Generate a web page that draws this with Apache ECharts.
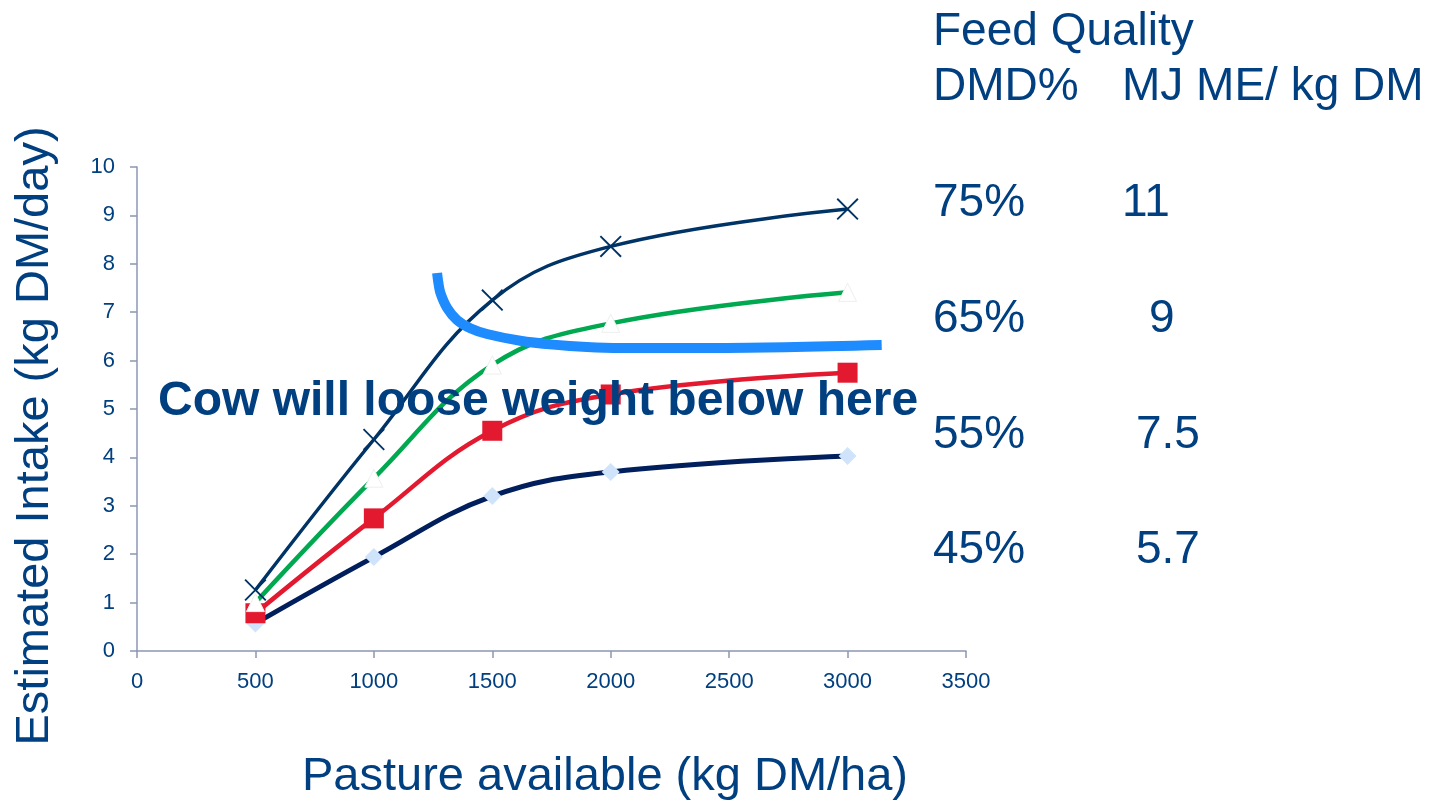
<!DOCTYPE html>
<html>
<head>
<meta charset="utf-8">
<script src="https://cdn.jsdelivr.net/npm/echarts@6/dist/echarts.min.js"></script>
<style>
html,body{margin:0;padding:0;background:#fff;}
#chart{width:1454px;height:800px;}
</style>
</head>
<body>
<div id="chart"></div>
<script>
// ---- data ----
const pasture = [500, 1000, 1500, 2000, 3000];
const dmd75 = [1.26, 4.37, 7.25, 8.36, 9.13];
const dmd65 = [1.0, 3.57, 5.91, 6.77, 7.41];
const dmd55 = [0.78, 2.74, 4.55, 5.3, 5.75];
const dmd45 = [0.57, 1.94, 3.2, 3.7, 4.03];
const threshX = [1267, 1272, 1281, 1309, 1351, 1407, 1478, 1618, 1757, 1900, 2040, 2462, 3144];
const threshY = [7.81, 7.62, 7.40, 7.09, 6.84, 6.67, 6.55, 6.41, 6.33, 6.28, 6.26, 6.26, 6.32];
const dmdLabels = ['75%', '65%', '55%', '45%'];
const meLabels = ['11', '9', '7.5', '5.7'];
const headerTitle = 'Feed Quality';
const headerCols = ['DMD%', 'MJ ME/ kg DM'];
const xName = 'Pasture available (kg DM/ha)';
const yName = 'Estimated Intake (kg DM/day)';
const noteText = 'Cow will loose weight below here';

const TXT = '#003F80';
const FONT = '"Liberation Sans", Arial, sans-serif';
const pairs = (xs, ys) => xs.map((x, i) => [x, ys[i]]);
const crossPath = 'path://M0,1.2L1.2,0L10,8.8L18.8,0L20,1.2L11.2,10L20,18.8L18.8,20L10,11.2L1.2,20L0,18.8L8.8,10Z';

const chart = echarts.init(document.getElementById('chart'), null, {renderer: 'canvas'});

const rowY = [203, 319, 435, 550];
const meX = [1122, 1149, 1136, 1136];
const graphics = [
  {type: 'text', x: 35, y: 436, rotation: Math.PI / 2, z: 100,
   style: {text: yName, font: '47px ' + FONT, fill: TXT, align: 'center', verticalAlign: 'middle'}},
  {type: 'text', x: 605, y: 777, z: 100,
   style: {text: xName, font: '47px ' + FONT, fill: TXT, align: 'center', verticalAlign: 'middle'}},
  {type: 'text', x: 933, y: 32, z: 100,
   style: {text: headerTitle, font: '46px ' + FONT, fill: TXT, align: 'left', verticalAlign: 'middle'}},
  {type: 'text', x: 933, y: 87, z: 100,
   style: {text: headerCols[0], font: '46px ' + FONT, fill: TXT, align: 'left', verticalAlign: 'middle'}},
  {type: 'text', x: 1122, y: 87, z: 100,
   style: {text: headerCols[1], font: '46px ' + FONT, fill: TXT, align: 'left', verticalAlign: 'middle'}},
  {type: 'text', x: 158, y: 402, z: 100,
   style: {text: noteText, font: 'bold 48px ' + FONT, fill: TXT, align: 'left', verticalAlign: 'middle'}}
];
dmdLabels.forEach((t, i) => {
  graphics.push({type: 'text', x: 933, y: rowY[i], z: 100,
    style: {text: t, font: '46px ' + FONT, fill: TXT, align: 'left', verticalAlign: 'middle'}});
  graphics.push({type: 'text', x: meX[i], y: rowY[i], z: 100,
    style: {text: meLabels[i], font: '46px ' + FONT, fill: TXT, align: 'left', verticalAlign: 'middle'}});
});

const axisCommon = {
  axisLine: {show: true, lineStyle: {color: '#8C96B4', width: 1.5}},
  axisTick: {show: true, length: 7, lineStyle: {color: '#8C96B4', width: 1.5}},
  splitLine: {show: false}
};
const labelStyle = {color: TXT, fontSize: 22, fontFamily: FONT, formatter: v => String(v)};

chart.setOption({
  animation: false,
  backgroundColor: '#fff',
  grid: {left: 137, top: 167, width: 829, height: 484, containLabel: false},
  xAxis: Object.assign({type: 'value', min: 0, max: 3500, interval: 500}, axisCommon,
    {axisLabel: Object.assign({}, labelStyle, {margin: 20})}),
  yAxis: Object.assign({type: 'value', min: 0, max: 10, interval: 1}, axisCommon,
    {axisLabel: Object.assign({}, labelStyle, {margin: 22})}),
  graphic: graphics,
  series: [
    {name: '45%', type: 'line', data: pairs(pasture, dmd45), smooth: 0.4,
     lineStyle: {color: '#001F5C', width: 5}, symbol: 'diamond', symbolSize: 18,
     itemStyle: {color: '#CFE4FA'}, z: 2},
    {name: '55%', type: 'line', data: pairs(pasture, dmd55), smooth: 0.4,
     lineStyle: {color: '#E3192F', width: 4.5}, symbol: 'rect', symbolSize: 20,
     itemStyle: {color: '#E3192F'}, z: 3},
    {name: '65%', type: 'line', data: pairs(pasture, dmd65), smooth: 0.4,
     lineStyle: {color: '#00A84F', width: 4.5}, symbol: 'triangle', symbolSize: 18,
     itemStyle: {color: '#FFFFFF', borderColor: '#EEEEEE', borderWidth: 1}, z: 4},
    {name: '75%', type: 'line', data: pairs(pasture, dmd75), smooth: 0.4,
     lineStyle: {color: '#003366', width: 3.5}, symbol: crossPath, symbolSize: 22,
     itemStyle: {color: '#003366'}, z: 5},
    {name: 'threshold', type: 'line', data: pairs(threshX, threshY), smooth: 0.3,
     lineStyle: {color: '#1E8CFF', width: 10, cap: 'butt'}, symbol: 'none', z: 6}
  ]
});
</script>
</body>
</html>
